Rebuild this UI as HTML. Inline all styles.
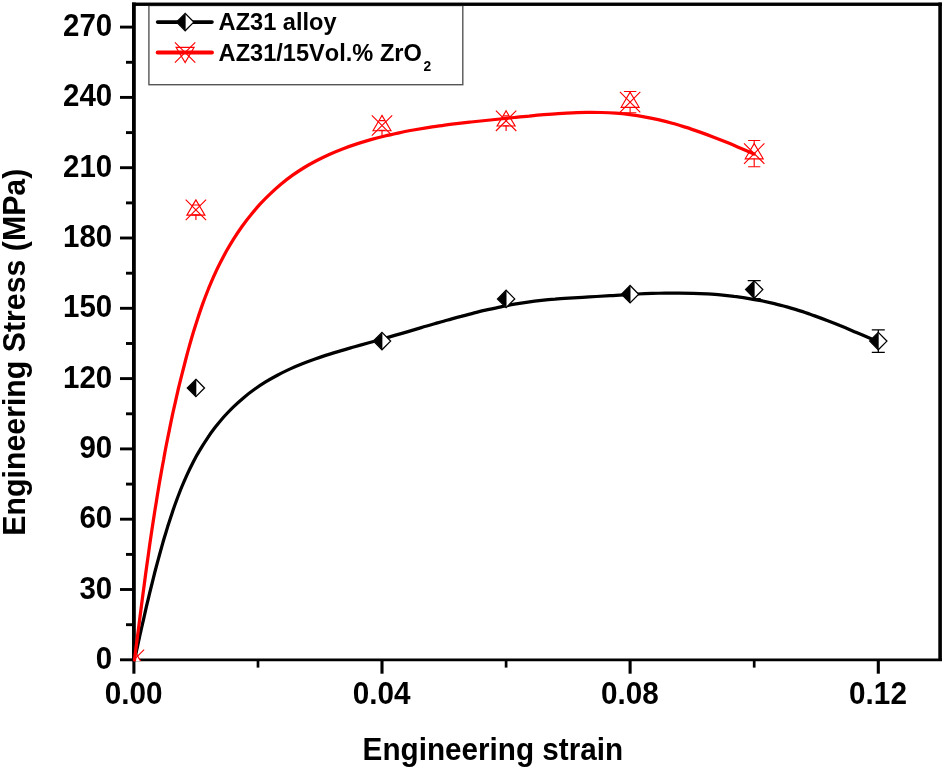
<!DOCTYPE html>
<html><head><meta charset="utf-8"><title>Engineering stress-strain</title>
<style>html,body{margin:0;padding:0;background:#fff}svg{display:block}text{font-family:"Liberation Sans",Arial,sans-serif;font-weight:bold;fill:#000;font-kerning:none}</style></head><body>
<svg width="944" height="770" viewBox="0 0 944 770" style="will-change:transform">
<rect width="944" height="770" fill="#fff"/>
<defs><clipPath id="pc"><rect x="134.2" y="4.2" width="805.8" height="655.6"/></clipPath>
<g id="rm" stroke="#f00" stroke-width="1.15" fill="none"><path d="M0 -10L-9 5.2H9Z" fill="#fff"/><path d="M-10.2 -10.2L10.2 10.2M10.2 -10.2L-10.2 10.2"/></g>
<g id="bm"><path d="M0 -8.7L8.6 0L0 8.7L-8.6 0Z" fill="#fff" stroke="#000" stroke-width="1.3"/><path d="M0.4 -8.7L-8.6 0L0.4 8.7Z" fill="#000"/></g>
</defs>
<path d="M132 4.3H941.9" stroke="#000" stroke-width="3"/><path d="M132 659.8H941.9" stroke="#000" stroke-width="2.7"/><path d="M133.9 2.6V661.1" stroke="#000" stroke-width="3.8"/><path d="M940.1 2.6V661.1" stroke="#000" stroke-width="3.6"/>
<line x1="120" y1="659.8" x2="134" y2="659.8" stroke="#000" stroke-width="2.9"/>
<line x1="126" y1="624.7" x2="134" y2="624.7" stroke="#000" stroke-width="2.9"/>
<line x1="120" y1="589.5" x2="134" y2="589.5" stroke="#000" stroke-width="2.9"/>
<line x1="126" y1="554.4" x2="134" y2="554.4" stroke="#000" stroke-width="2.9"/>
<line x1="120" y1="519.2" x2="134" y2="519.2" stroke="#000" stroke-width="2.9"/>
<line x1="126" y1="484.1" x2="134" y2="484.1" stroke="#000" stroke-width="2.9"/>
<line x1="120" y1="448.9" x2="134" y2="448.9" stroke="#000" stroke-width="2.9"/>
<line x1="126" y1="413.8" x2="134" y2="413.8" stroke="#000" stroke-width="2.9"/>
<line x1="120" y1="378.6" x2="134" y2="378.6" stroke="#000" stroke-width="2.9"/>
<line x1="126" y1="343.5" x2="134" y2="343.5" stroke="#000" stroke-width="2.9"/>
<line x1="120" y1="308.3" x2="134" y2="308.3" stroke="#000" stroke-width="2.9"/>
<line x1="126" y1="273.2" x2="134" y2="273.2" stroke="#000" stroke-width="2.9"/>
<line x1="120" y1="238.0" x2="134" y2="238.0" stroke="#000" stroke-width="2.9"/>
<line x1="126" y1="202.9" x2="134" y2="202.9" stroke="#000" stroke-width="2.9"/>
<line x1="120" y1="167.7" x2="134" y2="167.7" stroke="#000" stroke-width="2.9"/>
<line x1="126" y1="132.6" x2="134" y2="132.6" stroke="#000" stroke-width="2.9"/>
<line x1="120" y1="97.4" x2="134" y2="97.4" stroke="#000" stroke-width="2.9"/>
<line x1="126" y1="62.3" x2="134" y2="62.3" stroke="#000" stroke-width="2.9"/>
<line x1="120" y1="27.1" x2="134" y2="27.1" stroke="#000" stroke-width="2.9"/>
<line x1="133.9" y1="660" x2="133.9" y2="673.7" stroke="#000" stroke-width="3.1"/>
<line x1="258.0" y1="660" x2="258.0" y2="667.6" stroke="#000" stroke-width="2.7"/>
<line x1="382.0" y1="660" x2="382.0" y2="673.7" stroke="#000" stroke-width="3.1"/>
<line x1="506.1" y1="660" x2="506.1" y2="667.6" stroke="#000" stroke-width="2.7"/>
<line x1="630.1" y1="660" x2="630.1" y2="673.7" stroke="#000" stroke-width="3.1"/>
<line x1="754.2" y1="660" x2="754.2" y2="667.6" stroke="#000" stroke-width="2.7"/>
<line x1="878.3" y1="660" x2="878.3" y2="673.7" stroke="#000" stroke-width="3.1"/>
<text transform="translate(112.2 668.8) scale(1 1.065)" font-size="29.5" text-anchor="end">0</text>
<text transform="translate(112.2 598.5) scale(1 1.065)" font-size="29.5" text-anchor="end">30</text>
<text transform="translate(112.2 528.2) scale(1 1.065)" font-size="29.5" text-anchor="end">60</text>
<text transform="translate(112.2 457.9) scale(1 1.065)" font-size="29.5" text-anchor="end">90</text>
<text transform="translate(112.2 387.6) scale(1 1.065)" font-size="29.5" text-anchor="end">120</text>
<text transform="translate(112.2 317.3) scale(1 1.065)" font-size="29.5" text-anchor="end">150</text>
<text transform="translate(112.2 247.0) scale(1 1.065)" font-size="29.5" text-anchor="end">180</text>
<text transform="translate(112.2 176.7) scale(1 1.065)" font-size="29.5" text-anchor="end">210</text>
<text transform="translate(112.2 106.4) scale(1 1.065)" font-size="29.5" text-anchor="end">240</text>
<text transform="translate(112.2 36.1) scale(1 1.065)" font-size="29.5" text-anchor="end">270</text>
<text transform="translate(133.6 704.2) scale(1 1.065)" font-size="29.7" text-anchor="middle">0.00</text>
<text transform="translate(381.7 704.2) scale(1 1.065)" font-size="29.7" text-anchor="middle">0.04</text>
<text transform="translate(629.8 704.2) scale(1 1.065)" font-size="29.7" text-anchor="middle">0.08</text>
<text transform="translate(878.0 704.2) scale(1 1.065)" font-size="29.7" text-anchor="middle">0.12</text>
<text transform="translate(492.9 760) scale(1 1.04)" font-size="29.7" text-anchor="middle">Engineering strain</text>
<text transform="translate(25.3 352.2) rotate(-90) scale(1 1.03)" font-size="30.3" text-anchor="middle">Engineering Stress (MPa)</text>
<clipPath id="pc2"><rect x="135.8" y="5.8" width="802.5" height="655.3"/></clipPath>
<g clip-path="url(#pc)">
<path d="M134.5 660.0 C135.0 657.7 136.5 651.0 137.5 646.5 C138.5 642.0 139.4 637.5 140.4 633.0 C141.4 628.6 142.4 624.1 143.5 619.6 C144.5 615.1 145.5 610.7 146.5 606.2 C147.6 601.8 148.6 597.3 149.7 592.9 C150.8 588.4 151.9 584.0 153.0 579.6 C154.1 575.1 155.2 570.7 156.4 566.3 C157.6 561.9 158.8 557.4 160.0 553.0 C161.2 548.6 162.5 544.2 163.7 539.8 C165.0 535.4 166.4 531.0 167.7 526.6 C169.1 522.2 170.5 517.8 172.0 513.4 C173.4 509.0 175.0 504.7 176.6 500.3 C178.2 496.0 179.8 491.7 181.5 487.5 C183.3 483.2 185.1 479.0 187.0 474.8 C188.9 470.6 190.9 466.5 193.0 462.4 C195.1 458.3 197.3 454.3 199.7 450.4 C202.0 446.4 204.4 442.6 207.0 438.8 C209.5 435.0 212.2 431.2 215.0 427.6 C217.8 424.0 220.7 420.5 223.7 417.0 C226.8 413.6 229.9 410.3 233.2 407.1 C236.5 403.9 239.9 400.8 243.4 397.9 C246.9 394.9 250.5 392.1 254.2 389.5 C257.9 386.8 261.7 384.3 265.6 381.9 C269.5 379.5 273.4 377.3 277.4 375.2 C281.5 373.0 285.6 371.0 289.7 369.1 C293.8 367.3 298.0 365.5 302.3 363.8 C306.5 362.1 310.8 360.5 315.1 359.0 C319.4 357.5 323.7 356.0 328.1 354.6 C332.5 353.2 336.9 351.9 341.3 350.6 C345.7 349.2 350.2 348.0 354.6 346.7 C359.1 345.5 363.5 344.2 368.0 343.0 C372.4 341.8 376.9 340.5 381.4 339.3 C385.8 338.0 390.3 336.7 394.7 335.4 C399.1 334.2 403.6 332.9 408.0 331.6 C412.4 330.3 416.9 328.9 421.3 327.6 C425.7 326.4 430.1 325.1 434.5 323.8 C439.0 322.5 443.4 321.2 447.8 320.0 C452.2 318.8 456.6 317.5 461.1 316.4 C465.5 315.2 469.9 314.0 474.3 312.9 C478.8 311.8 483.2 310.7 487.7 309.7 C492.1 308.7 496.5 307.7 501.0 306.8 C505.5 305.9 509.9 305.0 514.4 304.2 C518.9 303.4 523.4 302.7 527.9 302.1 C532.4 301.4 536.9 300.8 541.4 300.3 C546.0 299.8 550.5 299.4 555.1 299.1 C559.6 298.7 564.2 298.4 568.8 298.1 C573.3 297.8 577.9 297.6 582.5 297.3 C587.1 297.0 591.7 296.8 596.3 296.5 C600.9 296.2 605.5 295.9 610.1 295.6 C614.7 295.4 619.4 295.1 624.0 294.8 C628.6 294.5 633.2 294.3 637.8 294.0 C642.4 293.8 647.1 293.6 651.7 293.4 C656.3 293.3 660.9 293.2 665.5 293.1 C670.1 293.0 674.7 293.0 679.3 293.0 C683.9 293.0 688.5 293.1 693.1 293.3 C697.6 293.4 702.2 293.6 706.8 293.9 C711.3 294.2 715.9 294.5 720.4 294.9 C725.0 295.3 729.5 295.8 734.0 296.4 C738.6 296.9 743.1 297.6 747.6 298.3 C752.1 299.0 756.6 299.8 761.0 300.7 C765.5 301.6 770.0 302.6 774.4 303.6 C778.9 304.7 783.3 305.9 787.7 307.1 C792.1 308.4 796.5 309.7 800.9 311.1 C805.3 312.5 809.7 314.1 814.0 315.6 C818.4 317.2 822.7 318.8 827.1 320.5 C831.4 322.1 835.7 323.8 839.9 325.6 C844.2 327.3 848.5 329.1 852.7 330.9 C857.0 332.7 861.2 334.5 865.4 336.2 C869.6 338.0 875.8 340.7 877.9 341.6" fill="none" stroke="#000" stroke-width="3.25" stroke-linecap="round"/>
</g>
<g clip-path="url(#pc2)"><use href="#rm" x="133.9" y="659.8"/></g>
<path d="M195.9 199.9V220.1" stroke="#f00" stroke-width="1.15" fill="none"/>
<use href="#rm" x="195.9" y="209.9"/>
<path d="M191.9 205.0h8.0M191.9 214.8h8.0" stroke="#f00" stroke-width="1.15" fill="none"/>
<path d="M382.0 115.5V135.7" stroke="#f00" stroke-width="1.15" fill="none"/>
<use href="#rm" x="382.0" y="125.5"/>
<path d="M379.0 120.6h6.0M379.0 130.4h6.0" stroke="#f00" stroke-width="1.15" fill="none"/>
<path d="M506.1 110.8V131.0" stroke="#f00" stroke-width="1.15" fill="none"/>
<use href="#rm" x="506.1" y="120.8"/>
<path d="M503.1 115.9h6.0M503.1 125.7h6.0" stroke="#f00" stroke-width="1.15" fill="none"/>
<path d="M630.1 91.5V112.7" stroke="#f00" stroke-width="1.15" fill="none"/>
<use href="#rm" x="630.1" y="102.1"/>
<path d="M623.9 91.5h12.4M623.9 112.7h12.4" stroke="#f00" stroke-width="1.15" fill="none"/>
<path d="M754.2 140.5V166.7" stroke="#f00" stroke-width="1.15" fill="none"/>
<use href="#rm" x="754.2" y="153.6"/>
<path d="M748.1 140.5h12.2M748.1 166.7h12.2" stroke="#f00" stroke-width="1.15" fill="none"/>
<use href="#bm" x="195.9" y="388.0"/>
<use href="#bm" x="382.0" y="341.1"/>
<use href="#bm" x="506.1" y="298.9"/>
<use href="#bm" x="630.1" y="294.2"/>
<path d="M754.2 280.6V298.6M747.7 280.6h13M747.7 298.6h13" stroke="#000" stroke-width="1.3" fill="none"/>
<use href="#bm" x="754.2" y="289.6"/>
<path d="M878.3 329.8V352.4M871.8 329.8h13M871.8 352.4h13" stroke="#000" stroke-width="1.3" fill="none"/>
<use href="#bm" x="878.3" y="341.1"/>
<path d="M134.5 660.0 C134.8 657.6 135.7 650.4 136.3 645.5 C136.9 640.7 137.6 635.9 138.2 631.1 C138.8 626.3 139.4 621.5 140.0 616.7 C140.6 611.9 141.3 607.1 141.9 602.3 C142.5 597.5 143.1 592.7 143.8 587.9 C144.4 583.1 145.1 578.3 145.7 573.5 C146.4 568.7 147.0 564.0 147.7 559.2 C148.4 554.4 149.0 549.6 149.7 544.8 C150.4 540.1 151.1 535.3 151.8 530.5 C152.5 525.8 153.3 521.0 154.0 516.2 C154.7 511.5 155.5 506.7 156.3 501.9 C157.0 497.2 157.8 492.4 158.6 487.7 C159.4 482.9 160.2 478.2 161.1 473.4 C161.9 468.7 162.8 463.9 163.7 459.2 C164.5 454.4 165.4 449.7 166.3 445.0 C167.3 440.2 168.2 435.5 169.2 430.8 C170.1 426.0 171.1 421.3 172.1 416.6 C173.1 411.8 174.2 407.1 175.3 402.4 C176.3 397.7 177.4 393.0 178.5 388.2 C179.6 383.5 180.8 378.8 182.0 374.1 C183.2 369.4 184.4 364.7 185.6 360.0 C186.8 355.3 188.1 350.5 189.4 345.9 C190.7 341.2 192.1 336.5 193.5 331.8 C194.9 327.2 196.4 322.5 197.9 317.9 C199.4 313.3 201.0 308.7 202.6 304.1 C204.3 299.5 206.0 295.0 207.8 290.5 C209.6 286.0 211.5 281.6 213.4 277.2 C215.4 272.7 217.4 268.4 219.6 264.1 C221.8 259.7 224.0 255.5 226.3 251.3 C228.7 247.1 231.2 242.9 233.7 238.9 C236.3 234.8 239.0 230.8 241.8 226.8 C244.6 222.9 247.5 219.0 250.6 215.3 C253.6 211.5 256.8 207.8 260.0 204.2 C263.3 200.7 266.7 197.2 270.2 193.9 C273.6 190.5 277.2 187.3 280.9 184.2 C284.6 181.2 288.4 178.2 292.3 175.4 C296.2 172.7 300.2 170.0 304.3 167.5 C308.4 165.0 312.6 162.7 316.8 160.5 C321.1 158.3 325.4 156.2 329.8 154.2 C334.2 152.3 338.7 150.4 343.2 148.7 C347.7 147.0 352.3 145.4 356.9 143.9 C361.5 142.4 366.1 141.0 370.8 139.6 C375.5 138.3 380.2 137.1 384.9 136.0 C389.6 134.8 394.4 133.8 399.1 132.8 C403.8 131.8 408.6 130.9 413.4 130.0 C418.1 129.2 422.9 128.4 427.7 127.6 C432.5 126.9 437.3 126.2 442.1 125.6 C446.9 124.9 451.7 124.3 456.5 123.7 C461.4 123.1 466.2 122.6 471.0 122.0 C475.8 121.5 480.7 121.0 485.5 120.5 C490.3 120.0 495.2 119.5 500.0 119.0 C504.9 118.5 509.7 118.0 514.5 117.5 C519.4 117.0 524.2 116.5 529.1 116.1 C533.9 115.6 538.7 115.1 543.6 114.7 C548.4 114.3 553.2 113.9 558.1 113.6 C562.9 113.3 567.7 113.0 572.5 112.8 C577.3 112.6 582.2 112.4 587.0 112.4 C591.8 112.3 596.6 112.4 601.3 112.5 C606.1 112.6 610.9 112.8 615.7 113.2 C620.4 113.5 625.2 114.0 629.9 114.6 C634.7 115.2 639.4 115.9 644.1 116.8 C648.8 117.6 653.5 118.6 658.2 119.7 C662.9 120.8 667.6 122.0 672.2 123.3 C676.9 124.6 681.5 126.0 686.2 127.4 C690.8 128.9 695.4 130.5 700.0 132.1 C704.6 133.7 709.1 135.4 713.7 137.2 C718.2 138.9 722.8 140.7 727.3 142.6 C731.8 144.4 736.2 146.3 740.7 148.2 C745.2 150.1 751.8 153.0 754.0 154.0" fill="none" stroke="#f00" stroke-width="3.25" stroke-linecap="round"/>
<rect x="148.9" y="5.5" width="313.9" height="79.2" fill="#fff" stroke="#555" stroke-width="1.4"/>
<path d="M132 4.3H941.9" stroke="#000" stroke-width="3"/>
<line x1="157.6" y1="22.1" x2="212" y2="22.1" stroke="#000" stroke-width="3.6" stroke-linecap="round"/>
<use href="#bm" x="185.2" y="22.1"/>
<g transform="translate(185.1 52.5) scale(1 -1)"><use href="#rm"/></g>
<line x1="157.6" y1="52.5" x2="212" y2="52.5" stroke="#f00" stroke-width="3.8" stroke-linecap="round"/>
<text x="218.6" y="30.3" font-size="23.6">AZ31 alloy</text>
<text x="218.6" y="60.8" font-size="23.6">AZ31/15Vol.% ZrO<tspan font-size="13.8" dx="1.6" dy="9.8">2</tspan></text>
</svg></body></html>
